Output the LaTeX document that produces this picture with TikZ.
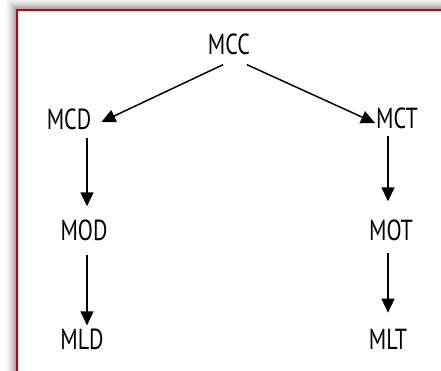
\documentclass[tikz,border=0pt]{standalone}
\usepackage{fontspec}
\setmainfont{PT Sans}[FakeStretch=0.76]
\usetikzlibrary{arrows.meta}
\definecolor{framered}{RGB}{200,0,0}
\tikzset{
  lbl/.style={inner sep=0pt, font=\fontsize{29}{32}\selectfont},
  arr/.style={line width=1.5pt, -{Triangle[length=14pt,width=13pt]}},
}
\begin{document}
\begin{tikzpicture}[x=1pt,y=-1pt]
\useasboundingbox (0,0) rectangle (441,371);
% shadow
\foreach \i in {12,11,...,1}{
  \pgfmathsetmacro{\g}{38*(1-(\i-1)/12)^1.5}
  \fill[black!\g] (17-\i,10.5-\i) rectangle (441,371);
}
\fill[white] (17,10.5) rectangle (441,371);
\draw[framered, line width=2pt] (17,371) -- (17,10.5) -- (441,10.5);
% nodes
\node[lbl] (mcc) at (229,44) {MCC};
\node[lbl] (mcd) at (69,119) {MCD};
\node[lbl] (mct) at (397,118) {MCT};
\node[lbl] (mod) at (84,230) {MOD};
\node[lbl] (mot) at (391,230) {MOT};
\node[lbl] (mld) at (82,339) {MLD};
\node[lbl] (mlt) at (388,339) {MLT};
% connectors
\draw[arr] ([xshift=-6pt,yshift=-10pt]mcc.south) -- ([xshift=10pt,yshift=-3pt]mcd.east);
\draw[arr] ([xshift=18pt,yshift=-10pt]mcc.south) -- ([xshift=-1pt,yshift=-5pt]mct.west);
\draw[arr] ([yshift=-8pt]mcd.south -| 87,0) -- ([yshift=13pt]mod.north -| 87,0);
\draw[arr] ([yshift=-14pt]mod.south -| 87,0) -- ([yshift=3pt]mld.north -| 87,0);
\draw[arr] ([yshift=-7pt]mct.south -| 388,0) -- ([yshift=18pt]mot.north -| 388,0);
\draw[arr] ([yshift=-12pt]mot.south -| 388,0) -- ([yshift=16pt]mlt.north -| 388,0);
\end{tikzpicture}
\end{document}
